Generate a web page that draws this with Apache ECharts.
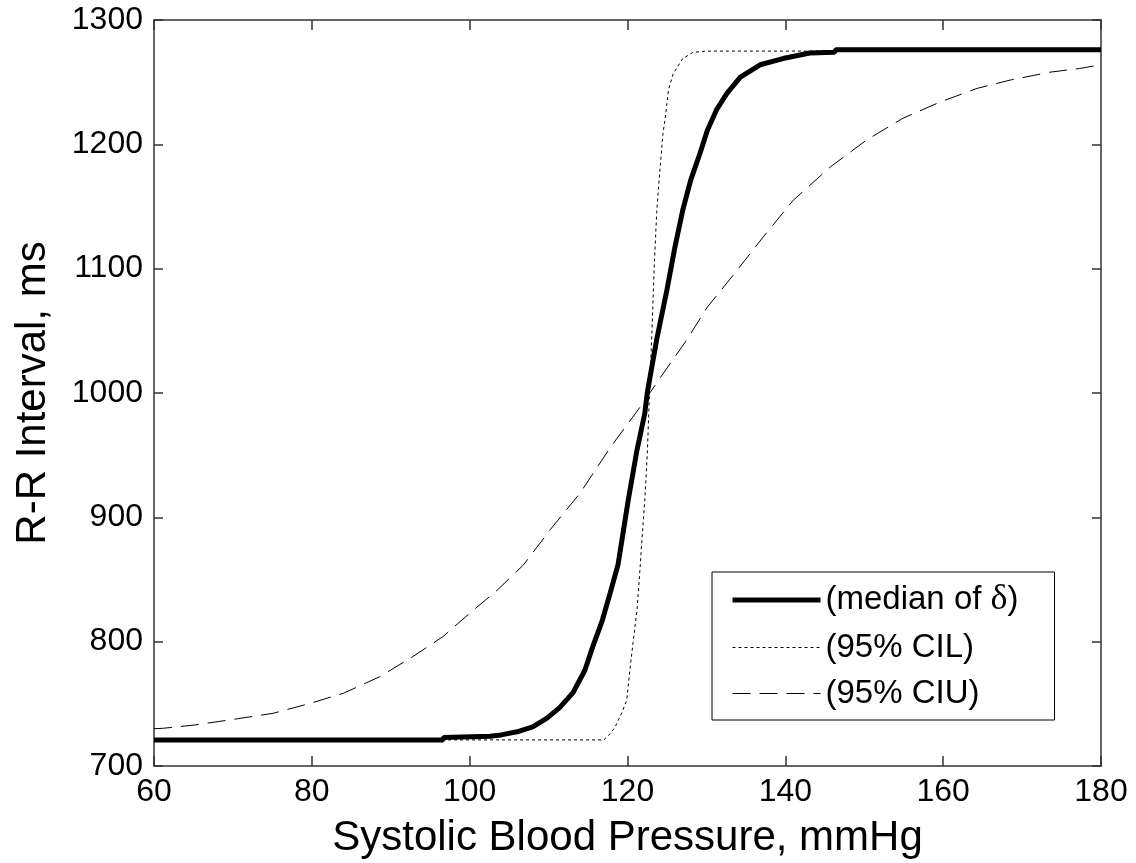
<!DOCTYPE html>
<html>
<head>
<meta charset="utf-8">
<script src="https://cdn.jsdelivr.net/npm/echarts@6/dist/echarts.min.js"></script>
<style>
html,body{margin:0;padding:0;background:#fff;}
#chart{width:1136px;height:863px;}
</style>
</head>
<body>
<div id="chart"></div>
<script>
// ---- data ----
var xTicks = [60, 80, 100, 120, 140, 160, 180];
var yTicks = [700, 800, 900, 1000, 1100, 1200, 1300];

var seriesNames = ['(median of δ)', '(95% CIL)', '(95% CIU)'];

var medianX = [60, 96.6, 96.7, 102.6, 104, 106, 108, 109.8, 111.4, 113.1, 114.6, 115.6, 116.8, 117.8, 118.8, 119.4, 120.1, 121.2, 122.2, 122.5, 123.7, 125.0, 126.0, 127.0, 128.0, 129.2, 130.1, 131.3, 132.6, 134.3, 136.8, 139.7, 143.1, 146.2, 146.4, 180];
var medianY = [721, 721, 723, 724, 725, 727.5, 731.5, 738.5, 747, 759, 777, 796, 817, 839, 862, 886, 914, 954, 984, 1000, 1043, 1083, 1117, 1147, 1171, 1193, 1211, 1228, 1241, 1254, 1264, 1269, 1273.5, 1274, 1276, 1276];

var cilX = [60, 117, 117.8, 118.4, 119.3, 119.9, 120.3, 120.7, 121.2, 121.6, 121.8, 122.2, 122.5, 122.85, 123.1, 123.4, 123.7, 124.0, 124.5, 124.8, 125.2, 125.8, 127.0, 128.3, 130, 180];
var cilY = [721, 721, 726, 731, 743, 753, 777, 799, 825, 860, 879, 915, 950, 1010, 1050, 1104, 1145, 1171, 1209, 1222, 1244, 1257, 1269, 1274, 1275, 1275];

var ciuX = [60, 61.1, 65.2, 70.9, 75.1, 79.8, 84.0, 88.6, 92.8, 96.6, 100.0, 103.5, 106.8, 110.2, 114.0, 117.8, 121.6, 124.4, 127.5, 130.1, 132.6, 135.9, 137.2, 141.0, 145.7, 150.3, 154.9, 159.6, 164.3, 168.5, 173.5, 177.3, 180];
var ciuY = [730, 730.3, 733, 738.3, 742.4, 750.4, 758.5, 771.8, 788, 804, 822.8, 841.5, 861.6, 890, 919.6, 956, 988.7, 1014.5, 1042.6, 1069, 1088.5, 1115, 1125.5, 1155, 1181.8, 1203.5, 1221, 1234, 1245, 1251.7, 1258, 1261, 1264];

function pairs(xs, ys){ return xs.map(function(x,i){ return [x, ys[i]]; }); }

var FONT = 'Liberation Sans, Arial, Helvetica, sans-serif';
var axisCol = '#333';

var chart = echarts.init(document.getElementById('chart'), null, {renderer:'canvas'});

function xAxisCfg(pos, showLabels){
  return {
    type:'value', position:pos, min:xTicks[0], max:xTicks[xTicks.length-1], interval:xTicks[1]-xTicks[0],
    axisLine:{show:true, onZero:false, lineStyle:{color:axisCol, width:1.5}},
    axisTick:{show:true, inside:true, length:10, lineStyle:{color:axisCol, width:1.5}},
    axisLabel:{show:showLabels, color:'#000', fontSize:32, fontFamily:FONT, margin:10,
      formatter:function(v){ return String(v); }},
    splitLine:{show:false},
    name: showLabels ? 'Systolic Blood Pressure, mmHg' : '',
    nameLocation:'middle', nameGap:51,
    nameTextStyle:{color:'#000', fontSize:42, fontFamily:FONT}
  };
}
function yAxisCfg(pos, showLabels){
  return {
    type:'value', position:pos, min:yTicks[0], max:yTicks[yTicks.length-1], interval:yTicks[1]-yTicks[0],
    axisLine:{show:true, onZero:false, lineStyle:{color:axisCol, width:1.5}},
    axisTick:{show:true, inside:true, length:9, lineStyle:{color:axisCol, width:1.5}},
    axisLabel:{show:showLabels, color:'#000', fontSize:32, fontFamily:FONT, margin:11,
      formatter:function(v){ return String(v); }},
    splitLine:{show:false},
    name: showLabels ? 'R-R Interval, ms' : '',
    nameLocation:'middle', nameGap:100,
    nameTextStyle:{color:'#000', fontSize:42, fontFamily:FONT}
  };
}

var legendLine = [
  {width:5, type:'solid'},
  {width:1, type:[3,3]},
  {width:1, type:[18,9]}
];

var option = {
  animation:false,
  backgroundColor:'#fff',
  grid:{left:154, right:35, top:20, bottom:97, containLabel:false, outerBoundsMode:'none'},
  xAxis:[xAxisCfg('bottom', true), xAxisCfg('top', false)],
  yAxis:[yAxisCfg('left', true), yAxisCfg('right', false)],
  legend:{
    orient:'vertical', left:712, top:572,
    padding:[10, 36, 10, 18],
    itemWidth:88, itemHeight:14, itemGap:13,
    backgroundColor:'#fff', borderColor:'#000', borderWidth:1, borderRadius:0,
    itemStyle:{opacity:0},
    textStyle:{color:'#000', fontSize:33, fontFamily:FONT,
      rich:{d:{fontFamily:'Liberation Serif, DejaVu Serif, serif', fontSize:36, color:'#000'}}},
    formatter:function(name){ return name.replace('δ','{d|δ}'); },
    data:seriesNames.map(function(n, i){
      return {name:n, itemStyle:{opacity:0},
        lineStyle:{color:'#000', width:legendLine[i].width, type:legendLine[i].type, opacity:1}};
    })
  },
  series:[
    {name:seriesNames[0], type:'line', xAxisIndex:0, yAxisIndex:0, symbol:'none', z:3,
     lineStyle:{color:'#000', width:5, type:'solid'}, itemStyle:{color:'#000'},
     data:pairs(medianX, medianY)},
    {name:seriesNames[1], type:'line', xAxisIndex:0, yAxisIndex:0, symbol:'none', z:4,
     lineStyle:{color:'#000', width:1, type:[3,3]}, itemStyle:{color:'#000'},
     data:pairs(cilX, cilY)},
    {name:seriesNames[2], type:'line', xAxisIndex:0, yAxisIndex:0, symbol:'none', z:4,
     lineStyle:{color:'#000', width:1, type:[18,9]}, itemStyle:{color:'#000'},
     data:pairs(ciuX, ciuY)}
  ]
};
chart.setOption(option);
</script>
</body>
</html>
